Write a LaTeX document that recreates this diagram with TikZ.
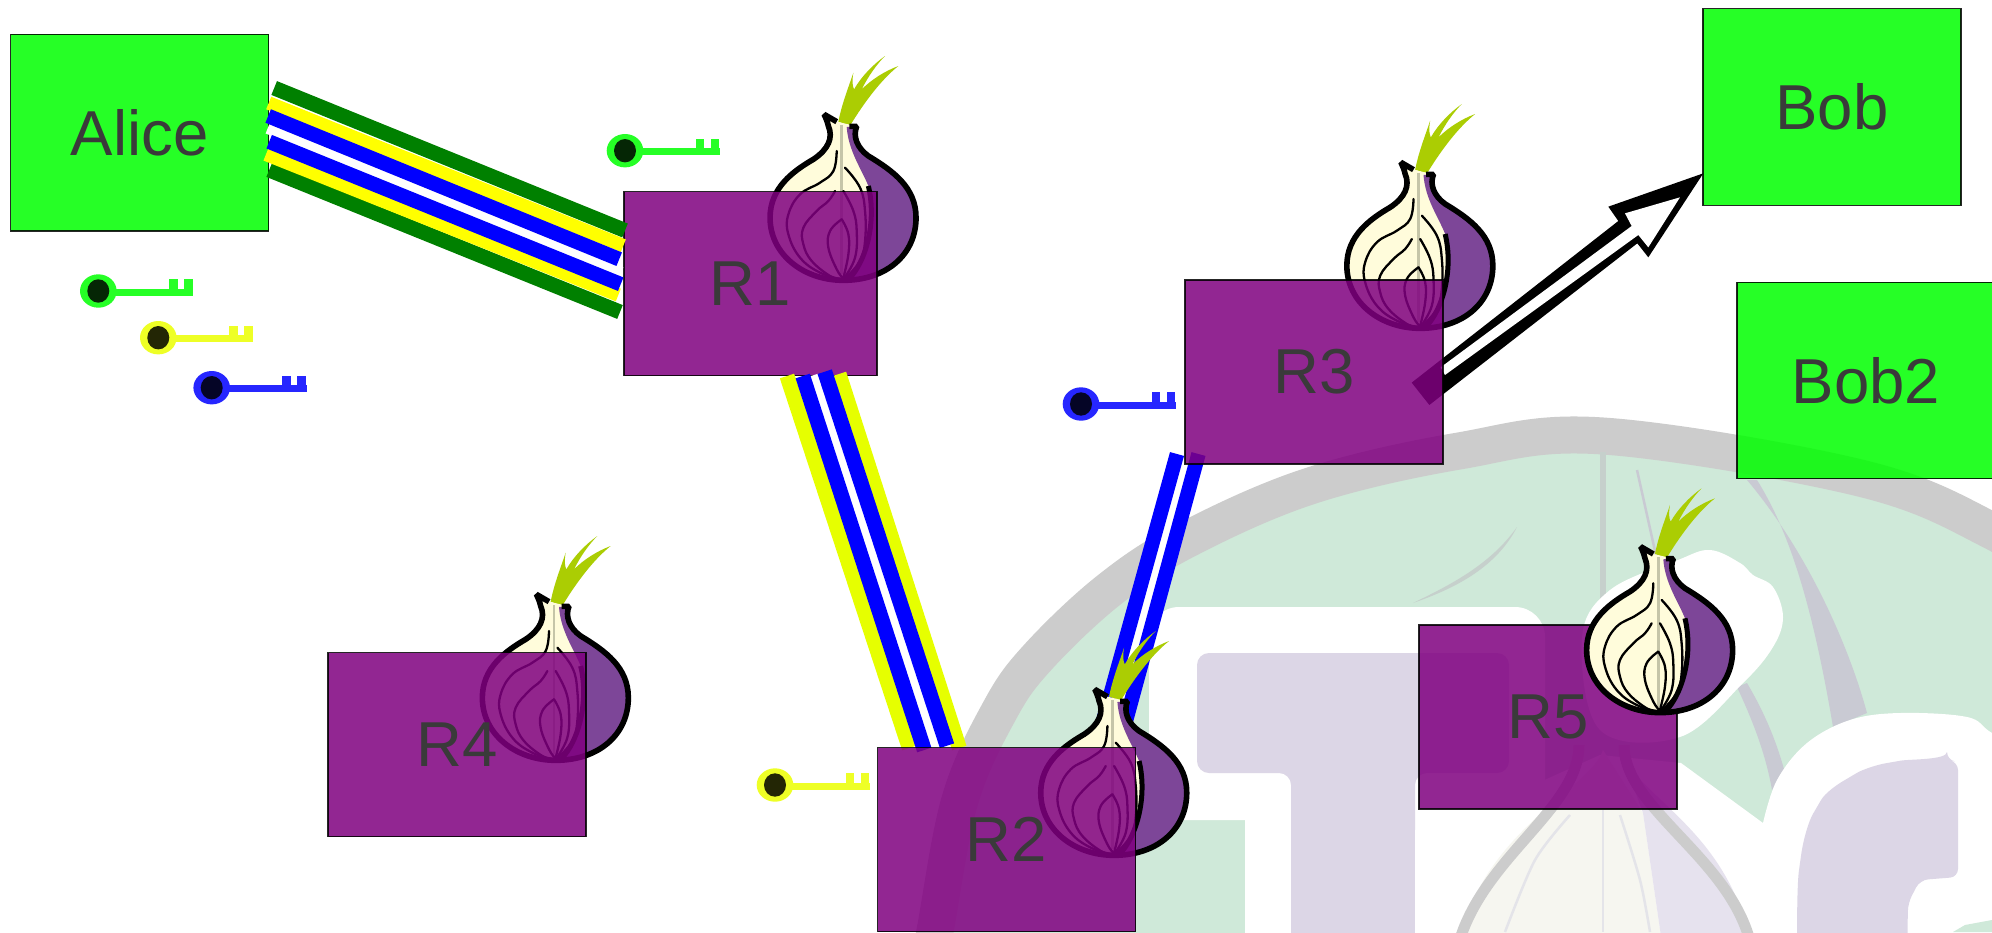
\documentclass[tikz,border=0pt]{standalone}
\usepackage{fontspec}
\setmainfont{Liberation Sans}
\definecolor{bggreen}{HTML}{CFE9D9}
\definecolor{bggray}{HTML}{CCCCCC}
\definecolor{bglav}{HTML}{DCD6E6}
\definecolor{bglav2}{HTML}{E6E2EE}
\definecolor{bgcream}{HTML}{F6F6F0}
\definecolor{bgline}{HTML}{C9CAD3}
\definecolor{bgfaint}{HTML}{C6D0CC}
\definecolor{boxtext}{HTML}{3A3A3A}
\definecolor{bandgreen}{HTML}{008000}
\definecolor{bandyellow}{HTML}{FFFF00}
\definecolor{bandlime}{HTML}{E6FF00}
\definecolor{bandblue}{HTML}{0000FF}
\definecolor{keygreen}{HTML}{26FF26}
\definecolor{keyyellow}{HTML}{EEFF26}
\definecolor{keyblue}{HTML}{2626FF}
\definecolor{oncream}{HTML}{FFFCDB}
\definecolor{onpurple}{HTML}{7D4698}
\definecolor{onleaf}{HTML}{ABCD03}
\definecolor{onstem}{HTML}{C5C5A8}
\definecolor{purple80}{HTML}{800080}
\tikzset{
  hostbox/.style={draw=black,line width=1.3pt,draw opacity=.85,fill=green,fill opacity=.85,text opacity=1,text=boxtext,inner sep=0pt,outer sep=0pt,minimum width=258pt,minimum height=196.5pt,font=\fontsize{63.5}{70}\selectfont},
  relaybox/.style={draw=black,line width=1.3pt,draw opacity=.85,fill=purple80,fill opacity=.85,text opacity=1,text=boxtext,inner sep=0pt,outer sep=0pt,minimum width=258pt,minimum height=184pt,font=\fontsize{63.5}{70}\selectfont},
  band/.style={line width=#1pt,line cap=butt},
  onionline/.style={draw=black,line width=2.3pt,line cap=round},
}
\newcommand{\stripe}[5]{\coordinate (#1a) at (#3); \coordinate (#1b) at (#4); \draw[band=#5,#2] (#1a) -- (#1b);}
\newcommand{\keyicon}[3]{%
  \begin{scope}[shift={(#1,#2)}]
    \fill[#3] (0,0) ellipse [x radius=18.3pt,y radius=16.7pt];
    \fill[black,opacity=.85] (0,0) ellipse [x radius=11pt,y radius=11.7pt];
    \fill[#3] (17,-2.5) rectangle (95,4.5);
    \fill[#3] (70.7,-12) rectangle (79.2,0);
    \fill[#3] (85.7,-12) rectangle (94.2,0);
  \end{scope}}
\newcommand{\onion}[2]{%
  \begin{scope}[shift={(#1,#2)},x=.3333pt,y=-.3333pt,shift={(-265,-232)}]
    \fill[onleaf] (255,222) .. controls (265,170) and (285,120) .. (300,75)
      .. controls (295,105) and (298,115) .. (302,125)
      .. controls (325,85) and (360,50) .. (395,25)
      .. controls (370,50) and (345,85) .. (325,125)
      .. controls (355,95) and (395,70) .. (435,55)
      .. controls (385,95) and (335,160) .. (290,234) -- cycle;
    \fill[oncream] (212,200) -- (250,222) -- (310,236)
      .. controls (298,265) and (310,300) .. (345,325)
      .. controls (420,370) and (488,420) .. (488,510)
      .. controls (488,620) and (400,698) .. (270,698)
      .. controls (150,698) and (50,620) .. (50,510)
      .. controls (50,420) and (120,370) .. (180,335)
      .. controls (225,305) and (240,270) .. (225,235)
      .. controls (222,222) and (218,212) .. (212,200) -- cycle;
    \fill[onpurple] (280,238) -- (310,236)
      .. controls (298,265) and (310,300) .. (345,325)
      .. controls (420,370) and (488,420) .. (488,510)
      .. controls (488,620) and (400,698) .. (285,698)
      .. controls (340,640) and (370,520) .. (345,415)
      .. controls (325,365) and (285,310) .. (280,238) -- cycle;
    \draw[onstem,line width=2.6pt] (265,232) -- (265,680);
    \draw[onionline] plot[smooth,tension=.7] coordinates {(250,310) (240,370) (200,405) (140,440) (105,500) (105,560) (140,630) (200,675) (265,695)};
    \draw[onionline] plot[smooth,tension=.7] coordinates {(245,430) (225,460) (190,490) (150,540) (150,590) (175,640) (230,685) (262,695)};
    \draw[onionline] plot[smooth,tension=.7] coordinates {(265,515) (230,550) (225,600) (250,665) (268,690)};
    \draw[onionline] plot[smooth,tension=.7] coordinates {(265,515) (285,560) (285,620) (270,690)};
    \draw[onionline] plot[smooth,tension=.7] coordinates {(275,360) (320,420) (335,490) (335,580) (320,640) (275,692)};
    \draw[onionline] plot[smooth,tension=.7] coordinates {(270,430) (300,490) (310,550) (305,630) (272,692)};
    \draw[black,line width=5pt] (345,415) .. controls (370,520) and (340,640) .. (285,696);
    \draw[black,line width=5.6pt,line join=bevel] (288,236) -- (310,236)
      .. controls (298,265) and (310,300) .. (345,325)
      .. controls (420,370) and (488,420) .. (488,510)
      .. controls (488,620) and (400,698) .. (270,698)
      .. controls (150,698) and (50,620) .. (50,510)
      .. controls (50,420) and (120,370) .. (180,335)
      .. controls (225,305) and (240,270) .. (225,235)
      .. controls (222,222) and (218,212) .. (212,200) -- (250,222);
  \end{scope}}
\begin{document}
\begin{tikzpicture}[x=1pt,y=-1pt]
\useasboundingbox (0,0) rectangle (1992,932);
\clip (0,0) rectangle (1992,932);
\fill[white] (0,0) rectangle (1992,932);
% faded logo in the background
\filldraw[fill=bggreen,draw=bggray,line width=37pt] plot[smooth,tension=.6] coordinates {(925,980) (935,931) (960,800) (1000,710) (1038,657) (1109,590) (1186,540) (1310,486) (1459,451) (1603,436) (1860,478) (1992,531) (2100,600)} -- (2100,1050) -- (925,1050) -- cycle;
\fill[bgfaint] (1600,452) rectangle (1606,650);
\draw[bgline,line width=2.5pt] plot[smooth] coordinates {(1637,470) (1647,515) (1657,560)};
\fill[bgfaint] (1517,527) .. controls (1490,565) and (1450,585) .. (1413,603) .. controls (1450,590) and (1495,570) .. (1517,527) -- cycle;
\fill[bgline] (1747,480) -- (1757,480) .. controls (1785,525) and (1810,590) .. (1833,727) -- (1867,713) .. controls (1850,650) and (1810,555) .. (1747,480) -- cycle;
\fill[bgline] (1737,687) .. controls (1750,715) and (1765,750) .. (1772,790) -- (1785,773) .. controls (1775,735) and (1760,705) .. (1747,683) -- cycle;
% white letters
\fill[white,rounded corners=30pt] (1149,607) -- (1545,607) -- (1545,820) -- (1149,820) -- cycle;
\fill[white] (1245,800) rectangle (1460,940);
\fill[bglav,rounded corners=12pt] (1197,653) -- (1509,653) -- (1509,773) -- (1415,773) -- (1415,960) -- (1291,960) -- (1291,773) -- (1197,773) -- cycle;
\fill[white] (1415,960) -- (1415,830) -- (1500,800) -- (1600,755) -- (1681,763) -- (1763,823) -- plot[smooth,tension=.6] coordinates {(1763,823) (1777,780) (1807,743) (1850,720) (1900,713) (1967,717) (1992,733) (2040,760)} -- (2040,960) -- cycle;
\fill[white] plot[smooth cycle,tension=.6] coordinates {(1582,638) (1610,590) (1678,560) (1710,550) (1740,563) (1753,575) (1773,587) (1783,617) (1773,647) (1743,683) (1680,737) (1600,730)};
\fill[bgcream] (1603,750) .. controls (1590,790) and (1480,830) .. (1457,950) -- (1663,950) -- (1643,813) -- cycle;
\fill[bglav2] (1620,750) .. controls (1640,800) and (1730,830) .. (1752,950) -- (1663,950) -- (1643,813) -- cycle;
\draw[bggray,line width=11pt] (1457,950) .. controls (1478,860) and (1579,810) .. (1579,745);
\draw[bggray,line width=11pt] (1752,950) .. controls (1735,860) and (1624,810) .. (1624,745);
\draw[bgline!50,line width=2.5pt] (1603,810) -- (1603,932);
\draw[bgline!50,line width=2.5pt] plot[smooth] coordinates {(1570,815) (1535,860) (1505,932)};
\draw[bgline!50,line width=2.5pt] plot[smooth] coordinates {(1620,815) (1640,880) (1650,932)};
\fill[bglav,rounded corners=8pt] (1797,960) -- plot[smooth,tension=.6] coordinates {(1797,950) (1800,863) (1817,807) (1850,777) (1893,762) (1947,760)} -- (1958,762) -- (1958,877) -- (1920,880) -- (1908,903) -- (1907,960) -- cycle;
\fill[bggreen] (1953,932) -- (1965,925) -- (1992,920) -- (1992,932) -- cycle;
% onions behind the relays
\onion{841.7}{125}
\onion{1418.5}{173}
\onion{554}{605}
% first two hosts, then the links lying on them
\node[hostbox] (alice) at (139.8,132.7) {Alice};
\node[relaybox,minimum width=253pt] (r1) at (750.5,283.5) {R1};
\stripe{ga}{bandgreen}{274.2,88}{625,230.5}{14.9}
\stripe{gb}{bandgreen}{269.2,170}{620,312}{14.9}
\stripe{ya}{bandyellow}{268.7,103}{623.3,245.7}{13.5}
\stripe{yb}{bandyellow}{266,154.3}{618.3,295}{13.5}
\stripe{wa}{white}{267.3,129.3}{621.7,271.7}{9}
\stripe{ba}{bandblue}{268.2,116}{619.2,259.2}{14.6}
\stripe{bb}{bandblue}{269.2,141.7}{620.7,284.2}{14.6}
\stripe{yc}{bandlime}{787,376}{909.3,748}{15}
\stripe{yd}{bandlime}{839,374}{959.3,748}{15}
\stripe{wb}{white}{814,375}{936,748}{7.5}
\stripe{bc}{bandblue}{802.7,376}{924.3,750}{15}
\stripe{bd}{bandblue}{824.7,371.7}{947,745.7}{15}
\stripe{we}{white}{1188,454}{1107,748}{8}
\stripe{be}{bandblue}{1177,454}{1095.7,748}{14.5}
\stripe{bf}{bandblue}{1198.5,454}{1118.5,748}{14.5}
% arrow
\begin{scope}[shift={(1400,160)},x=.3333pt,y=-.3333pt]
  \fill[black] (35,668) -- (655,183) -- (625,140) -- (910,40) -- (745,292) -- (712,250) -- (88,735) -- cycle;
  \fill[white] (122,622) -- (695,198) -- (675,160) -- (840,112) -- (745,262) -- (715,225) -- (135,645) -- cycle;
\end{scope}
\onion{1112.4}{700}
% keys
\keyicon{98.3}{291}{keygreen}
\keyicon{158.3}{337.7}{keyyellow}
\keyicon{211.7}{387.7}{keyblue}
\keyicon{625}{150.7}{keygreen}
\keyicon{775}{785}{keyyellow}
\keyicon{1081}{404}{keyblue}
% nodes
\node[hostbox] (bob) at (1832,107) {Bob};
\node[hostbox] (bobtwo) at (1866,380.5) {Bob2};
\node[relaybox] (r3) at (1314,372) {R3};
\node[relaybox] (r2) at (1006.5,839.5) {R2};
\node[relaybox] (r4) at (457,744.5) {R4};
\node[relaybox] (r5) at (1548,717) {R5};
\onion{1658.3}{557.3}
\end{tikzpicture}
\end{document}
